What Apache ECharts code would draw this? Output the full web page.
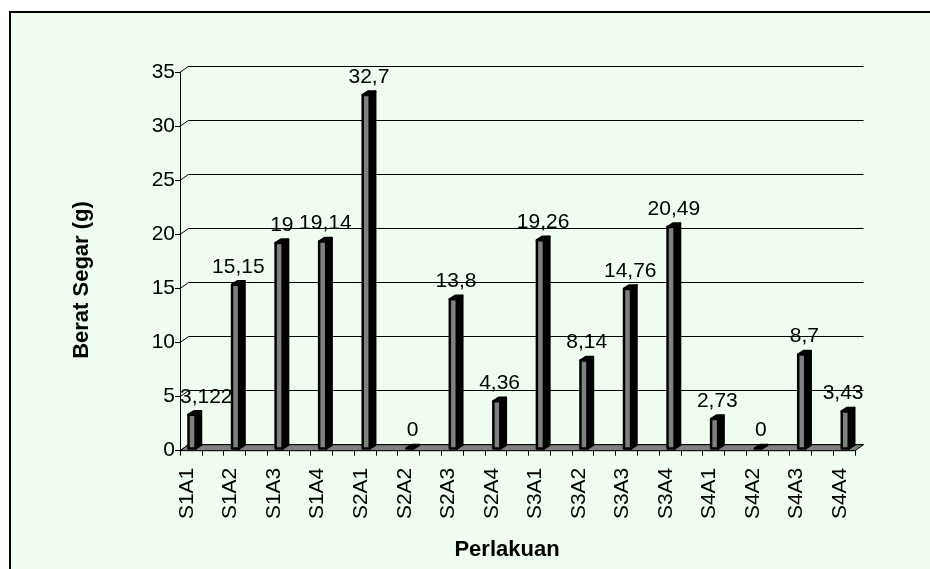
<!DOCTYPE html>
<html>
<head>
<meta charset="utf-8">
<script src="https://cdn.jsdelivr.net/npm/echarts@6/dist/echarts.min.js"></script>
<style>
  html, body { margin: 0; padding: 0; background: #ffffff; overflow: hidden; }
  #frame { position: absolute; left: 9px; top: 11px; width: 1000px; height: 1000px;
           border: 2px solid #000; background: #F0FCF0; }
  #chart { position: absolute; left: 0; top: 0; width: 930px; height: 569px; }
</style>
</head>
<body>
<div id="frame"></div>
<div id="chart"></div>
<script>
// Treatments and fresh weight (g)
const categories = ['S1A1', 'S1A2', 'S1A3', 'S1A4', 'S2A1', 'S2A2', 'S2A3', 'S2A4',
                    'S3A1', 'S3A2', 'S3A3', 'S3A4', 'S4A1', 'S4A2', 'S4A3', 'S4A4'];
const values = [3.122, 15.15, 19, 19.14, 32.7, 0, 13.8, 4.36,
                19.26, 8.14, 14.76, 20.49, 2.73, 0, 8.7, 3.43];
const yTicks = [0, 5, 10, 15, 20, 25, 30, 35];

// layout of the pseudo-3D box
const PLOT_LEFT = 180, PLOT_TOP = 72.3, PLOT_H = 378.4, FLOOR_W = 675;
const DEPTH = [8.5, -6];            // offset from front plane to back wall
const CAT_STEP = 43.55, CAT_FIRST = 187;
const FONT = '"Liberation Sans", Arial, sans-serif';
const FS = 21;
const TITLE_FONT = 'bold 22px ' + FONT;

const measureCtx = document.createElement('canvas').getContext('2d');
function textWidth(t, font) { measureCtx.font = font; return measureCtx.measureText(t).width; }

const fmt = v => String(v).replace('.', ',');

const chart = echarts.init(document.getElementById('chart'), null, { renderer: 'canvas' });

const option = {
  backgroundColor: 'transparent',
  animation: false,
  grid: [
    { left: PLOT_LEFT, top: PLOT_TOP, width: FLOOR_W, height: PLOT_H },
    { left: CAT_FIRST - CAT_STEP / 2, top: PLOT_TOP, width: CAT_STEP * categories.length, height: PLOT_H },
    { left: PLOT_LEFT + DEPTH[0], top: PLOT_TOP + DEPTH[1], width: FLOOR_W, height: PLOT_H }
  ],
  xAxis: [
    { gridIndex: 0, type: 'value', min: 0, max: 31, interval: 1,
      axisLine: { show: true, lineStyle: { color: '#000', width: 1 } },
      axisTick: { show: true, length: 5, lineStyle: { color: '#000', width: 1 } },
      axisLabel: { show: false }, splitLine: { show: false } },
    { gridIndex: 1, type: 'category', data: categories,
      axisLine: { show: false }, axisTick: { show: false },
      axisLabel: { rotate: 90, margin: 17, fontSize: FS, fontFamily: FONT, color: '#000', interval: 0 } },
    { gridIndex: 2, type: 'value', min: 0, max: 1, show: false }
  ],
  yAxis: [
    { gridIndex: 0, type: 'value', min: 0, max: 35, interval: 5,
      axisLine: { show: true, lineStyle: { color: '#000', width: 1 } },
      axisTick: { show: true, length: 5, lineStyle: { color: '#000', width: 1 } },
      axisLabel: { fontSize: FS, fontFamily: FONT, color: '#000', margin: 5 },
      splitLine: { show: false } },
    { gridIndex: 1, type: 'value', min: 0, max: 35, show: false },
    { gridIndex: 2, type: 'value', min: 0, max: 35, interval: 5,
      axisLine: { show: false }, axisTick: { show: false }, axisLabel: { show: false },
      splitLine: { show: true, lineStyle: { color: '#000', width: 1 } } }
  ],
  graphic: [
    { type: 'text', x: 82, y: 280, rotation: Math.PI / 2,
      style: { text: 'Berat Segar (g)', font: TITLE_FONT, fill: '#000',
               align: 'center', verticalAlign: 'middle' } },
    { type: 'text', x: 507, y: 550,
      style: { text: 'Perlakuan', font: TITLE_FONT, fill: '#000',
               align: 'center', verticalAlign: 'middle' } }
  ],
  series: [
    {
      // side-wall edges joining each front tick to its back gridline
      type: 'custom', xAxisIndex: 0, yAxisIndex: 0, z: 1, silent: true,
      data: yTicks.map(v => [0, v]),
      renderItem(params, api) {
        const p = api.coord([0, api.value(1)]);
        return { type: 'line',
          shape: { x1: p[0], y1: p[1], x2: p[0] + DEPTH[0], y2: p[1] + DEPTH[1] },
          style: { stroke: '#000', lineWidth: 1 } };
      }
    },
    {
      // floor slab
      type: 'custom', xAxisIndex: 0, yAxisIndex: 0, z: 1, silent: true,
      data: [[0, 0]],
      renderItem(params, api) {
        const a = api.coord([0, 0]);
        const b = api.coord([31, 0]);
        return { type: 'polygon',
          shape: { points: [a, b, [b[0] + DEPTH[0], b[1] + DEPTH[1]], [a[0] + DEPTH[0], a[1] + DEPTH[1]]] },
          style: { fill: '#808080', stroke: '#000', lineWidth: 1 } };
      }
    },
    {
      // columns with their value labels
      type: 'custom', xAxisIndex: 1, yAxisIndex: 1, z: 3, silent: true,
      data: values.map((v, i) => [i, v]),
      renderItem(params, api) {
        const base = api.coord([api.value(0), 0]);
        const top = api.coord([api.value(0), api.value(1)]);
        const w = 7, dx = 5.5, dy = -3.5, sy = -2.2;
        const x0 = base[0] + 1.5;
        const yb = base[1] + sy;
        const yt = Math.min(top[1] + sy, yb);
        const stroke = { stroke: '#000', lineWidth: 2.5, lineJoin: 'round' };
        const children = [
          { type: 'polygon', shape: { points: [[x0 + w, yb], [x0 + w, yt], [x0 + w + dx, yt + dy], [x0 + w + dx, yb + dy]] },
            style: Object.assign({ fill: '#000' }, stroke) },
          { type: 'polygon', shape: { points: [[x0, yt], [x0 + dx, yt + dy], [x0 + w + dx, yt + dy], [x0 + w, yt]] },
            style: Object.assign({ fill: '#111' }, stroke) }
        ];
        if (yb - yt > 0.5) {
          children.push({ type: 'rect', shape: { x: x0, y: yt, width: w, height: yb - yt },
            style: Object.assign({ fill: '#808080' }, stroke) });
        }
        const txt = fmt(api.value(1));
        const font = FS + 'px ' + FONT;
        const hw = textWidth(txt, font) / 2;
        const rightEdge = PLOT_LEFT + FLOOR_W + DEPTH[0];
        let cx = x0 + (w + dx) / 2;
        cx = Math.max(cx, PLOT_LEFT + hw);
        cx = Math.min(cx, rightEdge - hw);
        children.push({ type: 'text', x: cx, y: yt + dy - 4,
          style: { text: txt, font: font, fill: '#000', align: 'center', verticalAlign: 'bottom' } });
        return { type: 'group', children };
      }
    }
  ]
};

chart.setOption(option);
</script>
</body>
</html>
